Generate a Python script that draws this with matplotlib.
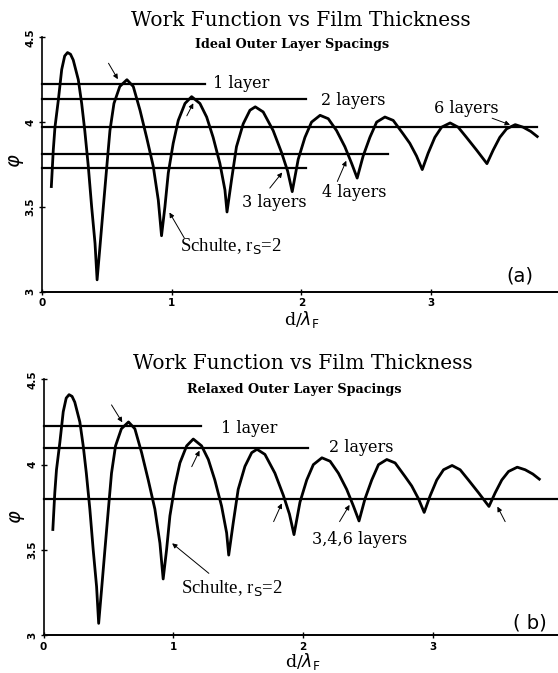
import matplotlib
matplotlib.use("Agg")
import matplotlib.pyplot as plt

# ---------------- data ----------------
# Schulte work-function curve (d/lambda_F, phi)
curve_x = [0.072, 0.087, 0.100, 0.126, 0.152, 0.175, 0.197, 0.220, 0.241, 0.280, 0.306, 0.330, 0.357,
           0.383, 0.409, 0.425,
           0.447, 0.473, 0.500, 0.524, 0.555, 0.600, 0.655, 0.704, 0.756, 0.807, 0.858, 0.897, 0.922,
           0.948, 0.974, 1.012, 1.051, 1.103, 1.154, 1.218, 1.270, 1.320, 1.372, 1.411, 1.427,
           1.462, 1.500, 1.552, 1.604, 1.645, 1.706, 1.783, 1.848, 1.895, 1.930,
           1.976, 2.028, 2.079, 2.145, 2.208, 2.272, 2.336, 2.388, 2.431,
           2.477, 2.529, 2.581, 2.645, 2.709, 2.786, 2.837, 2.889, 2.933,
           2.978, 3.030, 3.082, 3.148, 3.210, 3.274, 3.352, 3.432,
           3.480, 3.531, 3.583, 3.650, 3.711, 3.770, 3.820]
curve_y = [3.62, 3.835, 3.97, 4.13, 4.31, 4.39, 4.41, 4.40, 4.366, 4.25, 4.11, 3.95, 3.74,
           3.50, 3.285, 3.07,
           3.265, 3.50, 3.74, 3.95, 4.11, 4.21, 4.25, 4.21, 4.07, 3.91, 3.74, 3.54, 3.33,
           3.50, 3.70, 3.875, 4.01, 4.11, 4.15, 4.11, 4.03, 3.91, 3.757, 3.60, 3.47,
           3.66, 3.855, 3.99, 4.07, 4.09, 4.06, 3.95, 3.82, 3.71, 3.59,
           3.78, 3.91, 4.00, 4.04, 4.02, 3.95, 3.855, 3.757, 3.67,
           3.80, 3.91, 4.00, 4.03, 4.01, 3.93, 3.875, 3.80, 3.72,
           3.816, 3.91, 3.97, 3.995, 3.97, 3.91, 3.835, 3.755,
           3.835, 3.91, 3.96, 3.985, 3.97, 3.945, 3.915]

# (a) ideal outer layer spacings: layer-model work functions
a_labels = ["1 layer", "2 layers", "6 layers", "4 layers", "3 layers"]
a_levels = [4.225, 4.139, 3.974, 3.811, 3.732]
a_xend = [1.257, 2.037, 3.815, 2.670, 2.037]

# (b) relaxed outer layer spacings
b_labels = ["1 layer", "2 layers", "3,4,6 layers"]
b_levels = [4.227, 4.100, 3.800]
b_xend = [1.21, 2.04, 3.964]

x_ticks = [0, 1, 2, 3]
y_ticks = [3, 3.5, 4, 4.5]
y_ticklabels = ["3", "3.5", "4", "4.5"]

# ---------------- layout / annotations ----------------
a_label_pos = [(1.318, 4.23), (2.155, 4.13), (3.02, 4.078), (2.163, 3.587), (1.545, 3.528)]
a_arrows = [((0.513, 4.347), (0.585, 4.253)),
            ((1.117, 4.037), (1.167, 4.111)),
            ((3.472, 4.023), (3.610, 3.984)),
            ((2.278, 3.650), (2.347, 3.772)),
            ((1.757, 3.611), (1.853, 3.703)),
            ((1.098, 3.316), (0.983, 3.467))]
b_label_pos = [(1.367, 4.21), (2.20, 4.10), (2.07, 3.56)]
b_arrows = [((0.524, 4.350), (0.607, 4.248)),
            ((1.142, 3.988), (1.202, 4.082)),
            ((1.773, 3.666), (1.836, 3.773)),
            ((2.281, 3.666), (2.358, 3.764)),
            ((3.557, 3.666), (3.497, 3.754)),
            ((1.274, 3.363), (0.991, 3.539))]

W, H = 558, 673
fig = plt.figure(figsize=(W / 100, H / 100), dpi=100)

SERIF = ["DejaVu Serif"]


def make_panel(rect, xmax, levels, xends, labels, label_pos, arrows,
               title_y, sub_y, subtitle, schulte_pos, tag, tag_pos, xlabel_py, ylabel_y):
    ax = fig.add_axes(rect)
    ax.set_xlim(0, xmax)
    ax.set_ylim(3, 4.5)
    for s in ("top", "right"):
        ax.spines[s].set_visible(False)
    ax.spines["left"].set_linewidth(1.2)
    ax.spines["bottom"].set_linewidth(1.4)
    ax.set_xticks(x_ticks)
    ax.set_xticklabels([str(t) for t in x_ticks], fontsize=7.5, fontweight="bold")
    ax.set_yticks(y_ticks)
    ax.set_yticklabels(y_ticklabels, fontsize=7.5, fontweight="bold", rotation=90, va="center")
    ax.tick_params(direction="inout", length=5, width=1, pad=2)
    ax.tick_params(axis="y", pad=2)

    ax.plot(curve_x, curve_y, color="black", lw=2.0, solid_joinstyle="round", clip_on=False)
    for lev, xe in zip(levels, xends):
        ax.plot([0, xe], [lev, lev], color="black", lw=1.6, clip_on=False)
    for lab, (lx, ly) in zip(labels, label_pos):
        ax.text(lx, ly, lab, fontsize=11.5, family=SERIF, ha="left", va="center")
    for (tail, head) in arrows:
        ax.annotate("", xy=head, xytext=tail,
                    arrowprops=dict(arrowstyle="-|>", lw=0.7, color="black",
                                    mutation_scale=7, shrinkA=0, shrinkB=0))
    ax.text(schulte_pos[0], schulte_pos[1], r"Schulte, r$_{\rm S}$=2", fontsize=13.5,
            family=["Liberation Serif"], ha="left", va="center")
    ax.text(tag_pos[0], tag_pos[1], tag, fontsize=14, ha="left", va="center")

    ax.text(2.0, title_y, "Work Function vs Film Thickness", fontsize=14.5, family=SERIF,
            ha="center", va="center", clip_on=False)
    ax.text(1.93, sub_y, subtitle, fontsize=9.2, family=SERIF, fontweight="bold",
            ha="center", va="center", clip_on=False)
    fig.text(rect[0] + 2.0 / xmax * rect[2], 1 - xlabel_py / H, r"d/$\lambda_{\rm F}$",
             fontsize=12.5, family=SERIF, ha="center", va="center")
    ax.text(-0.2, ylabel_y, r"$\varphi$", fontsize=14, rotation=90, ha="center", va="center",
            clip_on=False)
    return ax


# top panel
top_rect = [42 / W, 1 - 291.7 / H, (W - 42) / W, (291.7 - 37.3) / H]
make_panel(top_rect, 3.98, a_levels, a_xend, a_labels, a_label_pos, a_arrows,
           4.598, 4.455, "Ideal Outer Layer Spacings", (1.062, 3.267), "(a)", (3.582, 3.09),
           320, 3.77)

# bottom panel
bot_rect = [43.5 / W, 1 - 635.3 / H, (W - 43.5) / W, (635.3 - 379.3) / H]
make_panel(bot_rect, 3.964, b_levels, b_xend, b_labels, b_label_pos, b_arrows,
           4.59, 4.44, "Relaxed Outer Layer Spacings", (1.06, 3.275), "( b)", (3.62, 3.07),
           661, 3.695)

fig.savefig("out.png", dpi=100)
